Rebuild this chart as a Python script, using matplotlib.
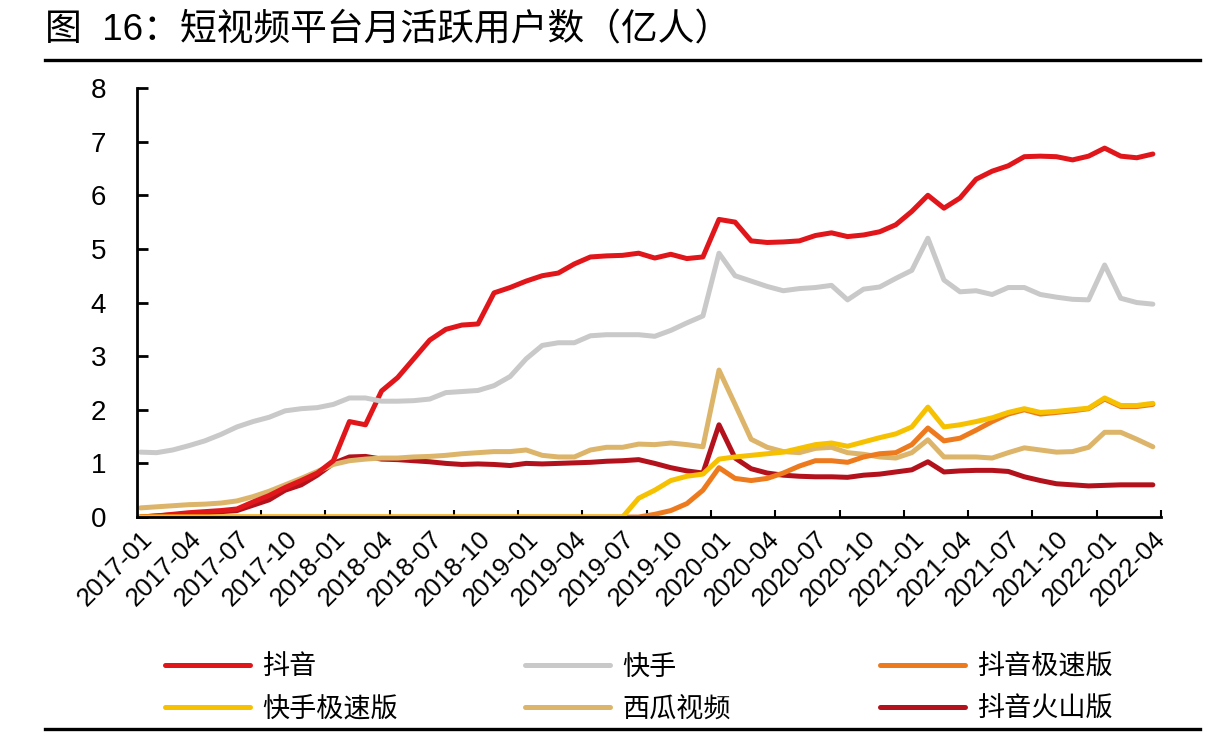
import matplotlib
matplotlib.use("Agg")
import matplotlib.pyplot as plt
from matplotlib.lines import Line2D
import numpy as np

plt.rcParams['font.family'] = ['Liberation Sans', 'Noto Sans CJK SC']

# monthly MAU, 2017-01 .. 2022-04 (亿人)
douyin = [0.0, 0.02, 0.05, 0.08, 0.1, 0.12, 0.15, 0.28, 0.4, 0.55, 0.68, 0.82,
          1.05, 1.78, 1.72, 2.35, 2.6, 2.95, 3.3, 3.5, 3.58, 3.6, 4.18, 4.28,
          4.4, 4.5, 4.55, 4.72, 4.85, 4.87, 4.88, 4.92, 4.83, 4.9, 4.82, 4.85,
          5.55, 5.5, 5.15, 5.12, 5.13, 5.15, 5.25, 5.3, 5.23, 5.26, 5.32, 5.45,
          5.7, 6.0, 5.76, 5.95, 6.3, 6.45, 6.55, 6.72, 6.73, 6.72, 6.66, 6.73,
          6.88, 6.73, 6.7, 6.77]
kuaishou = [1.21, 1.2, 1.25, 1.33, 1.42, 1.54, 1.68, 1.78, 1.86, 1.98, 2.02, 2.04,
            2.1, 2.22, 2.22, 2.16, 2.16, 2.17, 2.2, 2.32, 2.34, 2.36, 2.45, 2.62,
            2.95, 3.2, 3.25, 3.25, 3.38, 3.4, 3.4, 3.4, 3.37, 3.48, 3.62, 3.75,
            4.92, 4.5, 4.4, 4.3, 4.22, 4.26, 4.28, 4.32, 4.05, 4.25, 4.29, 4.45,
            4.6, 5.2, 4.42, 4.2, 4.22, 4.15, 4.28, 4.28, 4.15, 4.1, 4.06, 4.05,
            4.7, 4.08, 4.0, 3.97]
douyin_lite = [0, 0, 0, 0, 0, 0, 0, 0, 0, 0, 0, 0,
               0, 0, 0, 0, 0, 0, 0, 0, 0, 0, 0, 0,
               0, 0, 0, 0, 0, 0, 0, 0, 0.05, 0.12, 0.25, 0.5,
               0.92, 0.72, 0.68, 0.72, 0.82, 0.95, 1.05, 1.05, 1.02, 1.12, 1.18, 1.2,
               1.35, 1.66, 1.42, 1.47, 1.62, 1.78, 1.92, 2.0, 1.92, 1.95, 1.98, 2.02,
               2.2, 2.06, 2.06, 2.1]
kuaishou_lite = [0, 0, 0, 0, 0, 0, 0, 0, 0, 0, 0, 0,
                 0, 0, 0, 0, 0, 0, 0, 0, 0, 0, 0, 0,
                 0, 0, 0, 0, 0, 0, 0, 0.35, 0.5, 0.68, 0.76, 0.8,
                 1.08, 1.12, 1.15, 1.18, 1.21, 1.28, 1.35, 1.38, 1.32, 1.4, 1.48, 1.55,
                 1.68, 2.05, 1.68, 1.72, 1.78, 1.85, 1.95, 2.02, 1.95, 1.97, 2.0, 2.03,
                 2.22, 2.08, 2.08, 2.12]
xigua = [0.17, 0.19, 0.21, 0.23, 0.24, 0.26, 0.3, 0.38, 0.48, 0.6, 0.72, 0.85,
         0.98, 1.05, 1.08, 1.1, 1.1, 1.12, 1.13, 1.15, 1.18, 1.2, 1.22, 1.22,
         1.25, 1.15, 1.12, 1.12, 1.25, 1.3, 1.3, 1.36, 1.35, 1.38, 1.35, 1.31,
         2.74, 2.1, 1.45, 1.3, 1.22, 1.2, 1.28, 1.3, 1.2, 1.17, 1.12, 1.1,
         1.2, 1.44, 1.12, 1.12, 1.12, 1.1, 1.2, 1.29, 1.25, 1.21, 1.22, 1.3,
         1.58, 1.58, 1.45, 1.31]
huoshan = [0.0, 0.02, 0.04, 0.06, 0.08, 0.1, 0.12, 0.22, 0.32, 0.5, 0.6, 0.78,
           1.0, 1.12, 1.13, 1.08, 1.07, 1.05, 1.03, 1.0, 0.98, 0.99, 0.98, 0.96,
           1.0, 0.99, 1.0, 1.01, 1.02, 1.04, 1.05, 1.07, 1.0, 0.92, 0.86, 0.82,
           1.72, 1.1, 0.9, 0.82, 0.78, 0.76, 0.75, 0.75, 0.74, 0.78, 0.8, 0.84,
           0.88, 1.03, 0.84, 0.86, 0.87, 0.87, 0.85, 0.75, 0.68, 0.62, 0.6, 0.58,
           0.59, 0.6, 0.6, 0.6]

tick_labels = ["2017-01", "2017-04", "2017-07", "2017-10", "2018-01", "2018-04",
               "2018-07", "2018-10", "2019-01", "2019-04", "2019-07", "2019-10",
               "2020-01", "2020-04", "2020-07", "2020-10", "2021-01", "2021-04",
               "2021-07", "2021-10", "2022-01", "2022-04"]

C_DY = "#E0161B"
C_KS = "#C9C9C9"
C_DYL = "#EE7A1E"
C_KSL = "#F6C100"
C_XG = "#DDB56A"
C_HS = "#B3121C"

fig = plt.figure(figsize=(12.08, 7.32), dpi=100)
ax = fig.add_axes([0.113, 0.2937, 0.848, 0.586])

x = np.arange(len(douyin))
lw = 3.6
h_hs, = ax.plot(x, huoshan, color=C_HS, lw=lw, solid_capstyle='round', label="抖音火山版")
h_xg, = ax.plot(x, xigua, color=C_XG, lw=lw, solid_capstyle='round', label="西瓜视频")
h_dy, = ax.plot(x, douyin, color=C_DY, lw=lw, solid_capstyle='round', label="抖音")
h_ks, = ax.plot(x, kuaishou, color=C_KS, lw=lw, solid_capstyle='round', label="快手")
h_dyl, = ax.plot(x, douyin_lite, color=C_DYL, lw=lw, solid_capstyle='round', label="抖音极速版")
h_ksl, = ax.plot(x, kuaishou_lite, color=C_KSL, lw=lw, solid_capstyle='round', label="快手极速版")

ax.set_xlim(-0.25, 63.4)
ax.set_ylim(0, 8)
ax.set_yticks(range(0, 9))
ax.set_yticklabels([str(v) for v in range(0, 9)])
ax.tick_params(axis='y', direction='in', length=8, width=2, labelsize=20, pad=22)

ax.set_xticks(np.arange(0, len(douyin), 3))
ax.set_xticklabels(tick_labels, rotation=45, ha='right', rotation_mode='anchor', fontsize=18.5)
ax.tick_params(axis='x', which='major', length=0, pad=7)
ax.set_xticks(np.arange(3.5, len(douyin), 4), minor=True)
ax.tick_params(axis='x', which='minor', direction='in', length=5, width=1.5)

for s in ['top', 'right']:
    ax.spines[s].set_visible(False)
for s in ['left', 'bottom']:
    ax.spines[s].set_linewidth(2)
    ax.spines[s].set_color('black')

fig.text(0.037, 0.958, "图  16：短视频平台月活跃用户数（亿人）", fontsize=26.5, va='center', ha='left')
fig.add_artist(Line2D([0.037, 0.993], [0.918, 0.918], color='black', lw=2.4))
fig.add_artist(Line2D([0.037, 0.993], [0.004, 0.004], color='black', lw=2.4))

cols = [(0.1366, [h_dy, h_ksl]), (0.4346, [h_ks, h_xg]), (0.7285, [h_dyl, h_hs])]
for cx, hs in cols:
    fig.legend(hs, [h.get_label() for h in hs], loc='upper left', bbox_to_anchor=(cx, 0.106),
               frameon=False, fontsize=19.5, handlelength=3.15, handletextpad=0.45,
               labelspacing=0.6, borderpad=0, borderaxespad=0)

fig.savefig("out.png", dpi=100)
